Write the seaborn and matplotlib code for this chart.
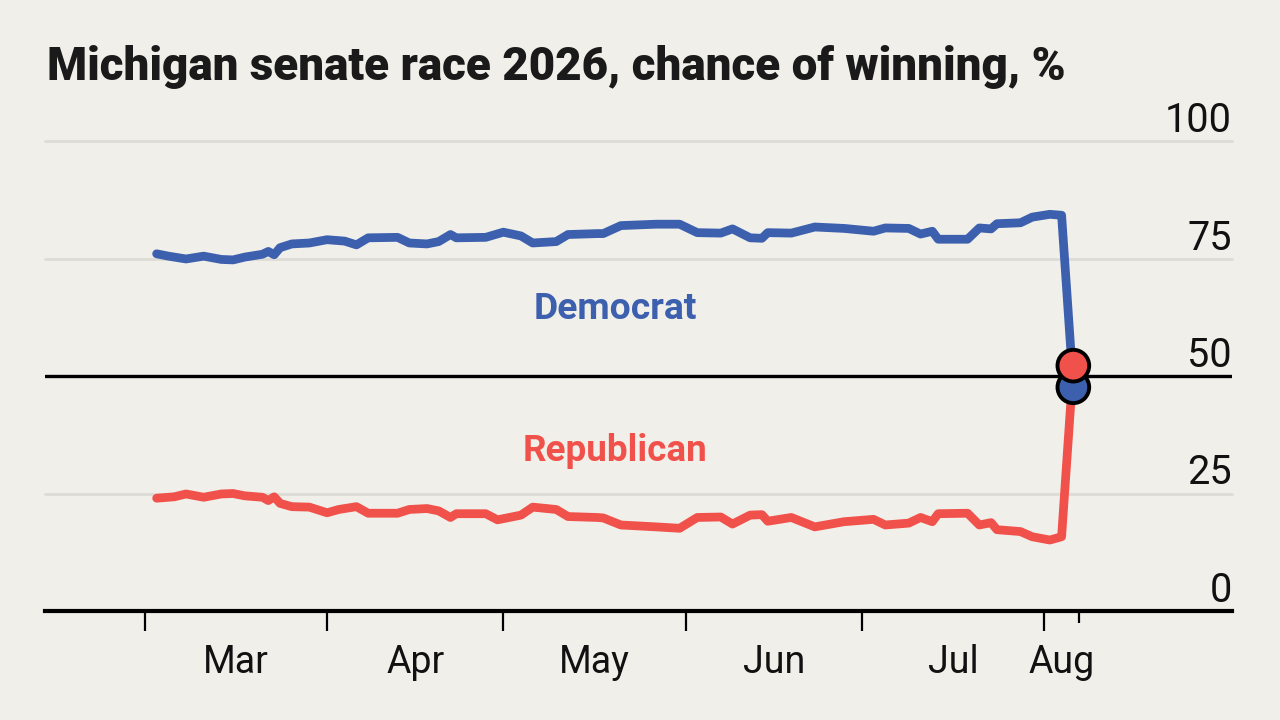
import numpy as np
import pandas as pd
import matplotlib
matplotlib.use("Agg")
import matplotlib.pyplot as plt
import matplotlib.dates as mdates
import matplotlib.transforms as mtransforms
from matplotlib import font_manager as fm
import seaborn as sns

# ---------------- data ----------------
TITLE = "Michigan senate race 2026, chance of winning, %"

dem_dates = ["2026-03-03", "2026-03-05", "2026-03-08", "2026-03-11", "2026-03-14", "2026-03-16",
             "2026-03-18", "2026-03-21", "2026-03-22", "2026-03-23", "2026-03-24", "2026-03-26",
             "2026-03-29", "2026-04-01", "2026-04-04", "2026-04-06", "2026-04-08", "2026-04-13",
             "2026-04-15", "2026-04-18", "2026-04-20", "2026-04-22", "2026-04-23", "2026-04-28",
             "2026-05-01", "2026-05-04", "2026-05-06", "2026-05-10", "2026-05-12", "2026-05-17",
             "2026-05-18", "2026-05-21", "2026-05-27", "2026-05-31", "2026-06-03", "2026-06-07",
             "2026-06-09", "2026-06-12", "2026-06-14", "2026-06-15", "2026-06-19", "2026-06-23",
             "2026-06-28", "2026-07-03", "2026-07-05", "2026-07-09", "2026-07-11", "2026-07-13",
             "2026-07-14", "2026-07-19", "2026-07-21", "2026-07-23", "2026-07-24", "2026-07-28",
             "2026-07-30", "2026-08-02", "2026-08-04", "2026-08-06"]
dem_values = [76.0, 75.5, 74.9, 75.5, 74.8, 74.7,
              75.3, 75.9, 76.5, 75.8, 77.3, 78.1,
              78.3, 79.0, 78.7, 77.9, 79.4, 79.5,
              78.3, 78.1, 78.6, 80.1, 79.4, 79.5,
              80.6, 79.8, 78.3, 78.6, 80.1, 80.3,
              80.3, 82.0, 82.3, 82.3, 80.5, 80.4,
              81.3, 79.4, 79.3, 80.5, 80.4, 81.7,
              81.4, 80.8, 81.5, 81.4, 80.2, 80.8,
              79.1, 79.1, 81.5, 81.3, 82.4, 82.6,
              83.8, 84.4, 84.2, 47.6]

rep_dates = ["2026-03-03", "2026-03-06", "2026-03-08", "2026-03-11", "2026-03-14", "2026-03-16",
             "2026-03-18", "2026-03-21", "2026-03-22", "2026-03-23", "2026-03-24", "2026-03-26",
             "2026-03-29", "2026-04-01", "2026-04-03", "2026-04-06", "2026-04-08", "2026-04-13",
             "2026-04-15", "2026-04-18", "2026-04-20", "2026-04-22", "2026-04-23", "2026-04-28",
             "2026-04-30", "2026-05-04", "2026-05-06", "2026-05-10", "2026-05-12", "2026-05-17",
             "2026-05-18", "2026-05-21", "2026-05-27", "2026-05-31", "2026-06-03", "2026-06-07",
             "2026-06-09", "2026-06-12", "2026-06-14", "2026-06-15", "2026-06-19", "2026-06-23",
             "2026-06-28", "2026-07-03", "2026-07-05", "2026-07-09", "2026-07-11", "2026-07-13",
             "2026-07-14", "2026-07-19", "2026-07-21", "2026-07-23", "2026-07-24", "2026-07-28",
             "2026-07-30", "2026-08-02", "2026-08-04", "2026-08-06"]
rep_values = [24.0, 24.3, 24.9, 24.2, 24.9, 25.0,
              24.5, 24.2, 23.5, 24.3, 22.9, 22.2,
              22.1, 20.9, 21.6, 22.2, 20.8, 20.8,
              21.6, 21.8, 21.3, 19.9, 20.7, 20.7,
              19.4, 20.4, 22.1, 21.6, 20.1, 19.9,
              19.8, 18.3, 17.9, 17.6, 19.9, 20.0,
              18.5, 20.4, 20.5, 19.1, 19.9, 17.9,
              19.0, 19.5, 18.3, 18.7, 19.9, 19.0,
              20.7, 20.8, 18.3, 18.8, 17.3, 16.9,
              15.8, 15.1, 15.8, 52.2]

parties = ["Democrat", "Republican"]
party_colors = {"Democrat": "#3c5fae", "Republican": "#f0514a"}

month_starts = ["2026-03-01", "2026-04-01", "2026-05-01", "2026-06-01", "2026-07-01", "2026-08-01"]
month_labels = ["Mar", "Apr", "May", "Jun", "Jul", "Aug"]
end_tick = "2026-08-07"
y_ticks = [0, 25, 50, 75, 100]

# ---------------- style ----------------
BG = "#f0efea"
sns.set_theme(style="white")


def has_font(name):
    try:
        fm.findfont(fm.FontProperties(family=name), fallback_to_default=False)
        return True
    except Exception:
        return False


def pick(cands):
    for c in cands:
        if has_font(c):
            return c
    return "DejaVu Sans"


NARROW = pick(["Liberation Sans Narrow", "Roboto", "Liberation Sans"])
TITLE_FONT = pick(["Roboto", "Liberation Sans"])
plt.rcParams["font.family"] = [NARROW, "DejaVu Sans"]

fig = plt.figure(figsize=(12.8, 7.2), dpi=100, facecolor=BG)
ax = fig.add_axes([45 / 1280, 109 / 720, (1232 - 45) / 1280, 470 / 720])
ax.set_facecolor(BG)

df = pd.concat([
    pd.DataFrame({"date": pd.to_datetime(dem_dates), "value": dem_values, "party": "Democrat"}),
    pd.DataFrame({"date": pd.to_datetime(rep_dates), "value": rep_values, "party": "Republican"}),
], ignore_index=True)

# gridlines
for v in y_ticks[1:]:
    if v == 50:
        continue
    ax.axhline(v, color="#dcdbd6", lw=2.0, zorder=1, clip_on=False)

sns.lineplot(data=df, x="date", y="value", hue="party", palette=party_colors,
             hue_order=parties, linewidth=6.3, legend=False, ax=ax, estimator=None,
             sort=True, zorder=3)
for line in ax.lines:
    line.set_solid_capstyle("round")
    line.set_solid_joinstyle("round")

ax.axhline(50, color="black", lw=2.4, zorder=4)

last = df.sort_values("date").groupby("party", sort=False).tail(1)
last = last.set_index("party").loc[parties].reset_index()
sns.scatterplot(data=last, x="date", y="value", hue="party", palette=party_colors,
                hue_order=parties, s=520, edgecolor="black", linewidth=2.8,
                legend=False, ax=ax, zorder=6)

# axes limits
ax.set_xlim(pd.Timestamp("2026-02-12"), pd.Timestamp("2026-09-02"))
ax.set_ylim(0, 100)

# spines
for s in ["top", "left", "right"]:
    ax.spines[s].set_visible(False)
ax.spines["bottom"].set_color("black")
ax.spines["bottom"].set_linewidth(3.0)
ax.spines["bottom"].set_zorder(5)

# x ticks
starts = pd.to_datetime(month_starts)
major = list(starts) + [pd.Timestamp(end_tick)]
ax.set_xticks([mdates.date2num(d) for d in major])
ax.set_xticklabels([""] * len(major))
bounds = list(starts) + [pd.Timestamp(end_tick)]
mids = [bounds[i] + (bounds[i + 1] - bounds[i]) / 2 for i in range(len(starts))]
ax.set_xticks([mdates.date2num(d) for d in mids], minor=True)
ax.set_xticklabels(month_labels, minor=True)
ax.tick_params(axis="x", which="major", direction="out", length=14.5, width=1.6,
               color="black", bottom=True)
ax.tick_params(axis="x", which="minor", length=0, pad=24, labelsize=27,
               labelcolor="#111111")
ax.xaxis.get_major_ticks()[-1].tick1line.set_markersize(8.5)

# y tick labels (above gridlines, right aligned)
ax.set_yticks(y_ticks)
ax.tick_params(axis="y", left=False, right=False, labelleft=False, labelright=False)
off = mtransforms.ScaledTranslation(0, 9 / 100, fig.dpi_scale_trans)
ytrans = mtransforms.blended_transform_factory(ax.transAxes, ax.transData) + off
for v in y_ticks:
    ax.text(1.0, v, str(v), transform=ytrans, ha="right", va="baseline",
            fontsize=28.5, color="#111111", family=[NARROW, "DejaVu Sans"])

ax.set_xlabel("")
ax.set_ylabel("")
ax.grid(False)

# series labels
t_dem = ax.text(pd.Timestamp("2026-05-20"), 64.3, "Democrat", color=party_colors["Democrat"],
                ha="center", va="center", fontsize=28, fontweight="bold",
                family=[NARROW, "DejaVu Sans"])
t_rep = ax.text(pd.Timestamp("2026-05-20"), 34.0, "Republican", color=party_colors["Republican"],
                ha="center", va="center", fontsize=28, fontweight="bold",
                family=[NARROW, "DejaVu Sans"])

# title
t_title = fig.text(47 / 1280, 1 - 80 / 720, TITLE, ha="left", va="baseline",
                   fontsize=33, fontweight="black", color="#1a1a1a",
                   family=[TITLE_FONT, "DejaVu Sans"])

# fit text widths to the reference
fig.canvas.draw()
r = fig.canvas.get_renderer()
for t, target in [(t_title, 1018), (t_dem, 163), (t_rep, 185)]:
    w = t.get_window_extent(r).width
    t.set_fontsize(t.get_fontsize() * target / w)

fig.savefig("out.png", dpi=100, facecolor=BG)
